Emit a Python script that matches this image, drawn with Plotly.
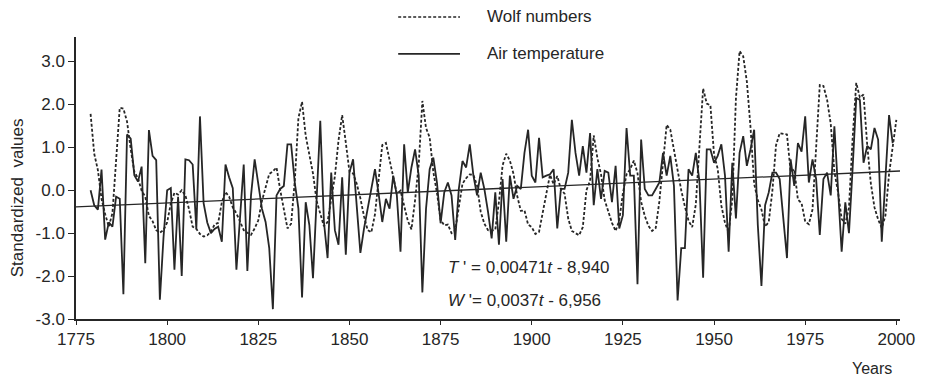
import plotly.graph_objects as go

# ---------------- data ----------------
WOLF_START = 1779
wolf_std = [
    1.78, 0.85, 0.47, -0.20, -0.56, -0.85, -0.53, 0.80, 1.92, 1.90,   # 1779-1788
    1.60, 0.96, 0.43, 0.28, -0.01, -0.15, -0.60, -0.72, -0.93, -0.99,  # 1789-1798
    -0.93, -0.75, -0.31, -0.06, -0.10, 0.00, -0.12, -0.44, -0.85, -0.90,  # 1799-1808
    -1.02, -1.08, -1.05, -0.97, -0.80, -0.76, -0.28, -0.04, -0.15, -0.40,  # 1809-1818
    -0.54, -0.73, -0.93, -0.99, -1.04, -0.89, -0.70, -0.25, 0.05, 0.38,  # 1819-1828
    0.44, 0.53, 0.01, -0.45, -0.89, -0.78, 0.21, 1.68, 2.06, 1.27,   # 1829-1838
    0.87, 0.39, -0.25, -0.53, -0.84, -0.74, -0.17, 0.32, 1.16, 1.75,  # 1839-1848
    1.11, 0.43, 0.39, 0.15, -0.19, -0.61, -0.93, -0.98, -0.56, 0.17,  # 1849-1858
    1.05, 1.10, 0.68, 0.26, -0.08, -0.01, -0.39, -0.71, -0.91, -0.23,  # 1859-1868
    0.60, 2.08, 1.45, 1.23, 0.43, -0.06, -0.69, -0.82, -0.80, -1.00,  # 1869-1878
    -0.94, -0.35, 0.15, 0.28, 0.37, 0.36, 0.11, -0.50, -0.78, -0.93,  # 1879-1888
    -0.94, -0.92, -0.27, 0.58, 0.85, 0.69, 0.38, -0.13, -0.48, -0.47,  # 1889-1898
    -0.80, -0.86, -1.02, -0.97, -0.53, -0.13, 0.36, 0.14, 0.33, 0.02,  # 1899-1908
    -0.08, -0.66, -0.95, -1.00, -1.05, -0.86, 0.00, 0.22, 1.28, 0.75,  # 1909-1918
    0.37, -0.23, -0.49, -0.76, -0.95, -0.70, -0.07, 0.37, 0.49, 0.69,  # 1919-1928
    0.40, -0.27, -0.60, -0.83, -0.95, -0.88, -0.26, 0.73, 1.52, 1.41,  # 1929-1938
    0.94, 0.46, 0.00, -0.38, -0.71, -0.86, -0.33, 1.03, 2.37, 2.02,   # 1939-1948
    1.98, 0.83, 0.50, -0.36, -0.76, -0.98, -0.22, 2.14, 3.24, 3.12,   # 1949-1958
    2.53, 1.47, 0.15, -0.23, -0.45, -0.85, -0.74, -0.01, 1.05, 1.33,  # 1959-1968
    1.32, 1.30, 0.43, 0.49, -0.22, -0.30, -0.73, -0.79, -0.45, 1.02,  # 1969-1978
    2.45, 2.43, 2.11, 1.55, 0.43, -0.04, -0.67, -0.78, -0.41, 1.20,   # 1979-1988
    2.50, 2.16, 2.23, 1.06, 0.16, -0.40, -0.68, -0.88, -0.59, 0.38,   # 1989-1998
    1.04, 1.64,                                                       # 1999-2000
]

TEMP_START = 1779
temp_std = [
    0.00, -0.35, -0.45, 0.48, -1.15, -0.75, -0.85, -0.15, -0.20, -2.42,  # 1779-1788
    1.30, 1.20, 0.35, 0.20, 0.55, -1.70, 1.40, 0.80, 0.70, -2.55,      # 1789-1798
    -1.10, 0.00, 0.05, -1.85, -0.15, -2.00, 0.72, 0.70, 0.60, -0.90,   # 1799-1808
    1.72, -0.30, -0.75, -1.00, -0.90, -0.85, -1.20, 0.60, 0.30, 0.05,  # 1809-1818
    -1.85, -0.58, 0.60, -1.88, -0.12, 0.72, 0.18, -0.43, -0.74, -1.35, # 1819-1828
    -2.77, -0.12, 0.03, 0.10, 1.07, 1.07, 0.18, -0.43, -2.50, -0.28,   # 1829-1838
    -0.81, -2.05, -0.20, 1.62, -0.74, -1.58, 0.41, -0.93, -1.27, 0.30, # 1839-1848
    -1.50, 0.41, 0.72, -0.43, -1.46, -0.89, -0.43, 0.03, 0.49, -0.08,  # 1849-1858
    -0.74, -0.20, -0.43, 0.34, -0.12, -1.43, 1.07, -0.05, 0.53, 0.95,  # 1859-1868
    0.34, -2.38, -0.43, 0.49, 0.76, 0.18, -0.77, -0.05, 0.18, -0.12,   # 1869-1878
    -1.16, 0.03, 0.68, 0.53, 1.07, 0.34, -0.12, 0.41, 0.03, -0.50,     # 1879-1888
    -1.12, -0.05, -1.27, 0.26, -1.20, 0.34, -0.20, 0.10, 0.03, 0.87,   # 1889-1898
    1.41, 0.34, 0.18, 1.22, 0.30, 0.34, 0.37, 0.49, -0.89, 0.03,       # 1899-1908
    0.03, 0.41, 1.64, 0.87, 0.34, 1.03, 0.41, 1.33, -0.35, 0.49,       # 1909-1918
    -0.20, 0.45, 0.41, -0.28, 0.57, -0.89, -0.58, 1.45, 0.34, 0.34,    # 1919-1928
    -2.19, 1.18, 0.03, -0.12, -0.12, 0.03, 0.18, 0.87, 0.34, 0.80,     # 1929-1938
    0.10, -2.57, -1.35, -1.35, 0.49, 0.34, 0.87, 0.20, -2.04, 0.95,    # 1939-1948
    0.95, 0.64, 0.80, 1.07, 0.34, -1.43, 0.64, -0.66, 0.87, 1.26,      # 1949-1958
    0.57, 0.95, 1.41, -0.81, -2.23, -0.35, -0.05, 0.41, 0.41, 0.26,    # 1959-1968
    -0.74, -1.58, 0.72, 0.10, 1.10, 0.90, 1.72, 0.18, 0.72, 0.26,      # 1969-1978
    -1.04, 0.26, 0.41, -0.12, 1.49, 0.10, -1.43, -0.28, -1.00, 0.50,   # 1979-1988
    2.15, 2.10, 0.64, 1.03, 0.95, 1.45, 1.18, -1.20, 0.18, 1.75,       # 1989-1998
    1.10,                                                              # 1999
]

# linear trend W' = 0.0037 t - 6.956
TREND_SLOPE = 0.0037
TREND_INTERCEPT = -6.956
trend_years = [1775, 2001]

x_tickvals = [1775, 1800, 1825, 1850, 1875, 1900, 1925, 1950, 1975, 2000]
y_tickvals = [-3, -2, -1, 0, 1, 2, 3]
y_ticktext = ["-3.0", "-2.0", "-1.0", "0.0", "1.0", "2.0", "3.0"]

legend_labels = ["Wolf numbers", "Air temperature"]
eq_T = "<i>T</i> ' = 0,00471<i>t</i> - 8,940"
eq_W = "<i>W</i> '= 0,0037<i>t</i> - 6,956"

# ---------------- figure ----------------
wolf_years = [WOLF_START + i for i in range(len(wolf_std))]
temp_years = [TEMP_START + i for i in range(len(temp_std))]
trend_vals = [TREND_SLOPE * t + TREND_INTERCEPT for t in trend_years]

INK = "#262626"
FONT = "Liberation Sans, Arial, sans-serif"

fig = go.Figure()
fig.add_trace(go.Scatter(x=wolf_years, y=wolf_std, mode="lines",
                         line=dict(color=INK, width=1.8, dash="3px,2px"),
                         name=legend_labels[0], showlegend=False))
fig.add_trace(go.Scatter(x=temp_years, y=temp_std, mode="lines",
                         line=dict(color=INK, width=1.8),
                         name=legend_labels[1], showlegend=False))
fig.add_trace(go.Scatter(x=trend_years, y=trend_vals, mode="lines",
                         line=dict(color=INK, width=1.3),
                         showlegend=False))

fig.update_layout(
    width=927, height=379,
    margin=dict(l=76, r=22, t=37, b=60),
    paper_bgcolor="white", plot_bgcolor="white",
    font=dict(family=FONT, size=17, color=INK),
    xaxis=dict(range=[1775, 2001], tickvals=x_tickvals, showgrid=False,
               zeroline=False, showline=True, linecolor=INK, linewidth=1.5,
               ticks="outside", ticklen=4, tickwidth=1.2, tickcolor=INK,
               tickfont=dict(size=17)),
    yaxis=dict(range=[-3, 3.57], tickvals=y_tickvals, ticktext=y_ticktext,
               showgrid=False, zeroline=False, showline=True, linecolor=INK,
               linewidth=1.5, ticks="outside", ticklen=6, tickwidth=1.2,
               tickcolor=INK, tickfont=dict(size=17)),
)

# manual legend
fig.add_shape(type="line", xref="paper", yref="paper", x0=0.391, x1=0.466,
              y0=1.071, y1=1.071, line=dict(color=INK, width=1.6, dash="3px,2px"))
fig.add_shape(type="line", xref="paper", yref="paper", x0=0.391, x1=0.466,
              y0=0.940, y1=0.940, line=dict(color=INK, width=1.6))
fig.add_annotation(xref="paper", yref="paper", x=0.496, y=1.071, text=legend_labels[0],
                   showarrow=False, xanchor="left", yanchor="middle", font=dict(size=17))
fig.add_annotation(xref="paper", yref="paper", x=0.496, y=0.940, text=legend_labels[1],
                   showarrow=False, xanchor="left", yanchor="middle", font=dict(size=17))

# equations
fig.add_annotation(xref="paper", yref="paper", x=0.449, y=0.181, text=eq_T,
                   showarrow=False, xanchor="left", yanchor="middle", font=dict(size=17))
fig.add_annotation(xref="paper", yref="paper", x=0.449, y=0.067, text=eq_W,
                   showarrow=False, xanchor="left", yanchor="middle", font=dict(size=17))

# axis titles
fig.add_annotation(xref="paper", yref="paper", x=-0.071, y=0.43,
                   text="Standardized  values", textangle=-90, showarrow=False,
                   xanchor="center", yanchor="middle", font=dict(size=17))
fig.add_annotation(xref="paper", yref="paper", x=0.966, y=-0.177, text="Years",
                   showarrow=False, xanchor="center", yanchor="middle", font=dict(size=16))

fig.write_html("out.html")
